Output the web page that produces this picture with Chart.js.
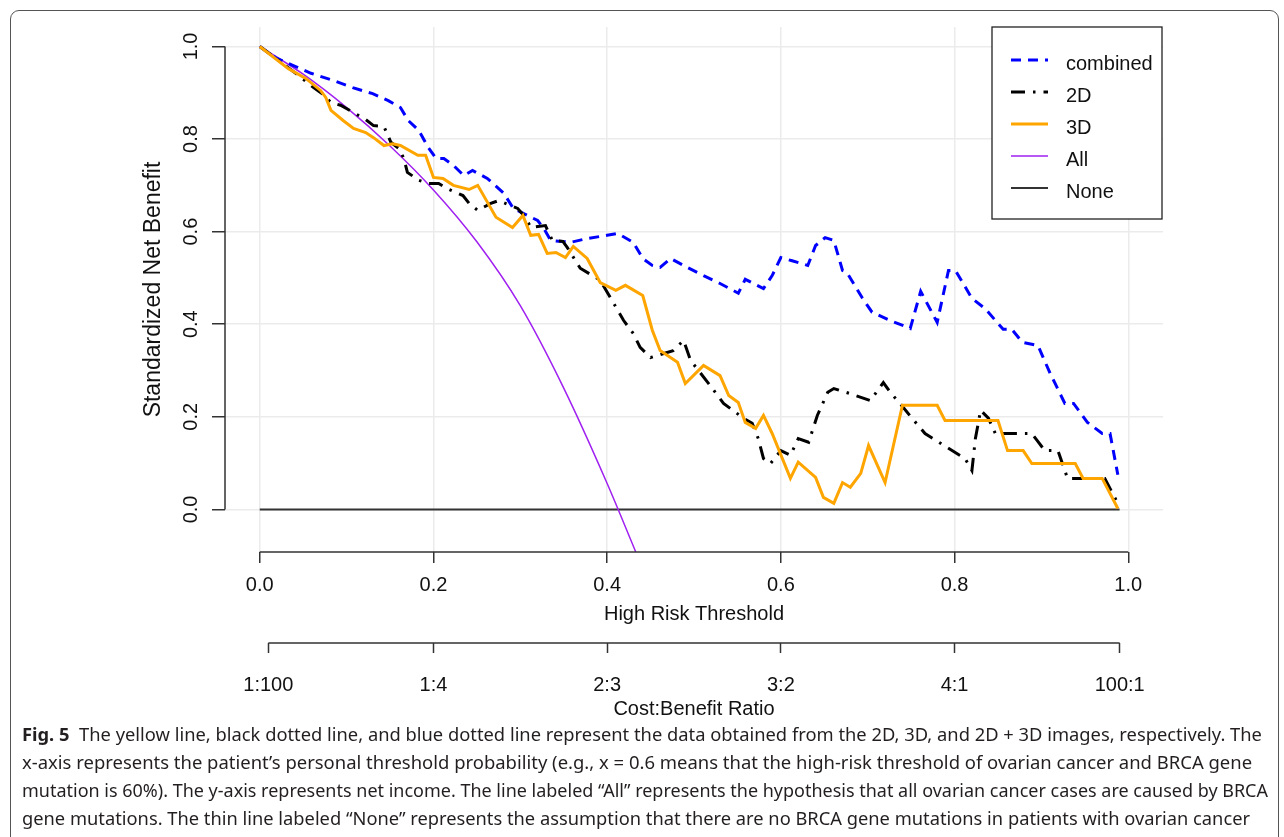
<!DOCTYPE html>
<html>
<head>
<meta charset="utf-8">
<title>Decision curve: High Risk Threshold</title>
<script src="https://cdn.jsdelivr.net/npm/chart.js"></script>
<style>
    body {
        margin: 0;
        width: 1284px;
        height: 837px;
        overflow: hidden;
        position: relative;
        background: #fff;
    }
    #frame {
        position: absolute;
        left: 10px;
        top: 10px;
        width: 1267px;
        height: 900px;
        border: 1px solid #555;
        border-radius: 9px;
    }
    #dca {
        position: absolute;
        left: 0;
        top: 0;
    }
    #caption {
        position: absolute;
        left: 22px;
        top: 720px;
        font-family: "Noto Sans", sans-serif;
        font-size: 17.5px;
        line-height: 28px;
        color: #231f20;
        white-space: nowrap;
    }
    #caption div {
        display: table;
        transform-origin: 0 50%;
    }
</style>
</head>
<body>
<div id="frame"></div>
<canvas id="dca" width="1284" height="725"></canvas>
<div id="caption">
    <div data-w="1240"><b>Fig. 5</b>&nbsp; The yellow line, black dotted line, and blue dotted line represent the data obtained from the 2D, 3D, and 2D + 3D images, respectively. The</div>
    <div data-w="1230">x-axis represents the patient’s personal threshold probability (e.g., x = 0.6 means that the high-risk threshold of ovarian cancer and BRCA gene</div>
    <div data-w="1246">mutation is 60%). The y-axis represents net income. The line labeled “All” represents the hypothesis that all ovarian cancer cases are caused by BRCA</div>
    <div data-w="1228">gene mutations. The thin line labeled “None” represents the assumption that there are no BRCA gene mutations in patients with ovarian cancer</div>
</div>

<script>
    // axis ticks
    const xTicks = [0, 0.2, 0.4, 0.6, 0.8, 1.0];
    const yTicks = [0, 0.2, 0.4, 0.6, 0.8, 1.0];
    const ratioTicks = [1 / 101, 0.2, 0.4, 0.6, 0.8, 100 / 101];
    const ratioLabels = ['1:100', '1:4', '2:3', '3:2', '4:1', '100:1'];

    // combined (2D + 3D)
    const combinedX = [0, 0.018, 0.038, 0.059, 0.084, 0.107, 0.130, 0.148, 0.162, 0.171, 0.183, 0.194, 0.203, 0.212,
        0.223, 0.235, 0.245, 0.262, 0.281, 0.292, 0.304, 0.320, 0.327, 0.335, 0.358, 0.377, 0.400, 0.412, 0.430,
        0.441, 0.452, 0.461, 0.473, 0.492, 0.511, 0.530, 0.551, 0.559, 0.580, 0.590, 0.600, 0.613, 0.631, 0.640,
        0.651, 0.661, 0.671, 0.676, 0.694, 0.705, 0.726, 0.749, 0.761, 0.780, 0.793, 0.801, 0.820, 0.835, 0.856,
        0.866, 0.878, 0.896, 0.910, 0.927, 0.937, 0.953, 0.970, 0.979, 0.988];
    const combinedY = [1.0, 0.976, 0.959, 0.942, 0.927, 0.911, 0.898, 0.883, 0.868, 0.840, 0.819, 0.782, 0.758, 0.758,
        0.743, 0.721, 0.732, 0.715, 0.683, 0.650, 0.639, 0.624, 0.607, 0.581, 0.577, 0.585, 0.592, 0.596, 0.577,
        0.542, 0.527, 0.523, 0.542, 0.523, 0.505, 0.488, 0.467, 0.497, 0.477, 0.505, 0.544, 0.537, 0.527, 0.570,
        0.587, 0.581, 0.516, 0.512, 0.456, 0.426, 0.408, 0.391, 0.471, 0.404, 0.516, 0.516, 0.456, 0.434, 0.389,
        0.389, 0.361, 0.354, 0.294, 0.229, 0.229, 0.188, 0.164, 0.164, 0.075];

    // 2D
    const model2dX = [0, 0.045, 0.062, 0.072, 0.082, 0.093, 0.110, 0.122, 0.131, 0.143, 0.151, 0.160, 0.166, 0.170,
        0.183, 0.194, 0.206, 0.216, 0.234, 0.241, 0.251, 0.266, 0.275, 0.297, 0.306, 0.312, 0.329, 0.337, 0.349,
        0.354, 0.369, 0.392, 0.407, 0.419, 0.430, 0.438, 0.450, 0.476, 0.488, 0.496, 0.516, 0.534, 0.557, 0.567,
        0.574, 0.580, 0.588, 0.600, 0.611, 0.620, 0.632, 0.642, 0.654, 0.661, 0.680, 0.703, 0.718, 0.726, 0.741,
        0.751, 0.766, 0.793, 0.812, 0.820, 0.824, 0.830, 0.839, 0.847, 0.889, 0.895, 0.904, 0.919, 0.927, 0.930,
        0.973, 0.988];
    const model2dY = [1.0, 0.937, 0.911, 0.898, 0.879, 0.873, 0.855, 0.842, 0.829, 0.827, 0.793, 0.780, 0.758, 0.728,
        0.711, 0.704, 0.704, 0.693, 0.678, 0.661, 0.646, 0.661, 0.667, 0.650, 0.631, 0.609, 0.613, 0.581, 0.579,
        0.566, 0.521, 0.495, 0.447, 0.408, 0.380, 0.350, 0.328, 0.343, 0.365, 0.322, 0.274, 0.229, 0.197, 0.186,
        0.153, 0.110, 0.099, 0.127, 0.117, 0.153, 0.145, 0.203, 0.253, 0.261, 0.250, 0.235, 0.274, 0.253, 0.220,
        0.197, 0.164, 0.132, 0.110, 0.084, 0.153, 0.214, 0.197, 0.164, 0.164, 0.149, 0.127, 0.127, 0.084, 0.067,
        0.067, 0.013];

    // 3D
    const model3dX = [0, 0.033, 0.053, 0.070, 0.076, 0.082, 0.096, 0.108, 0.122, 0.131, 0.143, 0.153, 0.162, 0.182,
        0.191, 0.200, 0.211, 0.223, 0.241, 0.251, 0.272, 0.291, 0.303, 0.312, 0.321, 0.331, 0.341, 0.352, 0.361,
        0.377, 0.392, 0.410, 0.421, 0.441, 0.452, 0.461, 0.481, 0.490, 0.511, 0.530, 0.540, 0.551, 0.559, 0.571,
        0.580, 0.590, 0.611, 0.620, 0.640, 0.649, 0.661, 0.671, 0.680, 0.692, 0.701, 0.720, 0.740, 0.780, 0.789,
        0.850, 0.861, 0.879, 0.889, 0.939, 0.948, 0.970, 0.988];
    const model3dY = [1.0, 0.952, 0.931, 0.905, 0.890, 0.862, 0.840, 0.823, 0.814, 0.803, 0.786, 0.790, 0.786, 0.765,
        0.765, 0.717, 0.715, 0.700, 0.691, 0.700, 0.631, 0.609, 0.635, 0.592, 0.594, 0.553, 0.555, 0.544, 0.568,
        0.542, 0.490, 0.473, 0.484, 0.462, 0.387, 0.343, 0.318, 0.272, 0.311, 0.289, 0.246, 0.231, 0.188, 0.175,
        0.203, 0.164, 0.067, 0.102, 0.069, 0.026, 0.013, 0.058, 0.048, 0.078, 0.138, 0.058, 0.225, 0.225, 0.192,
        0.192, 0.127, 0.127, 0.099, 0.099, 0.067, 0.067, 0.002];

    // treat all
    const allX = [0, 0.05, 0.10, 0.15, 0.20, 0.25, 0.30, 0.35, 0.40, 0.433];
    const allY = [1.0, 0.940, 0.868, 0.785, 0.690, 0.578, 0.440, 0.262, 0.056, -0.092];

    // treat none
    const noneX = [0, 0.99];
    const noneY = [0, 0];

    const xLim = [0, 1];
    const yLim = [-0.05, 1];

    const pts = (xs, ys) => xs.map((x, i) => ({ x: x, y: ys[i] }));
    // R style 4% padding around the data range
    const pad = (lim) => [lim[0] - 0.04 * (lim[1] - lim[0]), lim[1] + 0.04 * (lim[1] - lim[0])];
    const xRange = pad(xLim);
    const yRange = pad(yLim);

    Chart.defaults.font.family = "'Liberation Sans', Arial, sans-serif";
    Chart.defaults.color = '#111';

    // axis lines only between the first and last tick, like base R axes
    const axisLines = {
        id: 'axisLines',
        afterDraw(chart) {
            const { ctx, scales: { x, x2, y } } = chart;
            ctx.save();
            ctx.strokeStyle = '#333';
            ctx.lineWidth = 1.5;
            ctx.beginPath();
            ctx.moveTo(x.getPixelForValue(xTicks[0]), x.top);
            ctx.lineTo(x.getPixelForValue(xTicks[xTicks.length - 1]), x.top);
            ctx.moveTo(x2.getPixelForValue(ratioTicks[0]), x2.top);
            ctx.lineTo(x2.getPixelForValue(ratioTicks[ratioTicks.length - 1]), x2.top);
            ctx.moveTo(y.right, y.getPixelForValue(yTicks[0]));
            ctx.lineTo(y.right, y.getPixelForValue(yTicks[yTicks.length - 1]));
            ctx.stroke();
            ctx.restore();
        }
    };

    // boxed legend in the top right corner of the plot
    const legendOrder = ['combined', '2D', '3D', 'All', 'None'];
    const boxLegend = {
        id: 'boxLegend',
        afterDraw(chart) {
            const { ctx, chartArea } = chart;
            const w = 170, h = 192;
            const left = chartArea.right - 1 - w;
            const top = chartArea.top;
            ctx.save();
            ctx.fillStyle = '#fff';
            ctx.fillRect(left, top, w, h);
            ctx.strokeStyle = '#222';
            ctx.lineWidth = 1.3;
            ctx.strokeRect(left, top, w, h);
            ctx.font = "20px 'Liberation Sans', Arial, sans-serif";
            ctx.textBaseline = 'middle';
            ctx.fillStyle = '#111';
            legendOrder.forEach((label, i) => {
                const ds = chart.data.datasets.find(d => d.label === label);
                const yLine = top + 33 + i * 32;
                ctx.strokeStyle = ds.borderColor;
                ctx.lineWidth = ds.borderWidth;
                ctx.setLineDash(ds.borderDash || []);
                ctx.beginPath();
                ctx.moveTo(left + 19, yLine);
                ctx.lineTo(left + 56, yLine);
                ctx.stroke();
                ctx.fillText(label, left + 74, yLine + 4);
            });
            ctx.restore();
        }
    };

    const ctx = document.getElementById('dca').getContext('2d');
    const dcaChart = new Chart(ctx, {
        type: 'line',
        data: {
            datasets: [
                {
                    label: 'combined',
                    data: pts(combinedX, combinedY),
                    borderColor: '#0000ff',
                    borderWidth: 3,
                    borderDash: [10, 7],
                    order: 3
                },
                {
                    label: '2D',
                    data: pts(model2dX, model2dY),
                    borderColor: '#000000',
                    borderWidth: 3,
                    borderDash: [14, 8, 2.5, 8],
                    order: 2
                },
                {
                    label: '3D',
                    data: pts(model3dX, model3dY),
                    borderColor: '#ffa500',
                    borderWidth: 3,
                    order: 1
                },
                {
                    label: 'All',
                    data: pts(allX, allY),
                    borderColor: '#a020f0',
                    borderWidth: 1.5,
                    cubicInterpolationMode: 'monotone',
                    order: 4
                },
                {
                    label: 'None',
                    data: pts(noneX, noneY),
                    borderColor: '#333333',
                    borderWidth: 2,
                    order: 5
                }
            ]
        },
        options: {
            responsive: false,
            animation: false,
            elements: {
                point: { radius: 0 },
                line: { tension: 0, fill: false }
            },
            layout: {
                padding: { left: 0, top: 27, right: 121, bottom: 2 }
            },
            scales: {
                x: {
                    type: 'linear',
                    position: 'bottom',
                    weight: 0,
                    min: xRange[0],
                    max: xRange[1],
                    afterBuildTicks: s => { s.ticks = xTicks.map(v => ({ value: v })); },
                    afterFit: s => { s.height = 91; },
                    border: { display: false },
                    grid: {
                        color: '#ebebeb',
                        lineWidth: 1.5,
                        tickColor: '#333',
                        tickWidth: 1.5,
                        tickLength: 11
                    },
                    ticks: {
                        font: { size: 20 },
                        padding: 10,
                        maxRotation: 0,
                        autoSkip: false,
                        callback: v => v.toFixed(1)
                    },
                    title: {
                        display: true,
                        text: 'High Risk Threshold',
                        font: { size: 20 },
                        padding: { top: 0, bottom: 17 }
                    }
                },
                x2: {
                    type: 'linear',
                    position: 'bottom',
                    weight: 1,
                    min: xRange[0],
                    max: xRange[1],
                    afterBuildTicks: s => { s.ticks = ratioTicks.map(v => ({ value: v })); },
                    afterFit: s => { s.height = 80; },
                    border: { display: false },
                    grid: {
                        drawOnChartArea: false,
                        tickColor: '#333',
                        tickWidth: 1.5,
                        tickLength: 10
                    },
                    ticks: {
                        font: { size: 20 },
                        padding: 20,
                        maxRotation: 0,
                        autoSkip: false,
                        callback: (v, i) => ratioLabels[i]
                    },
                    title: {
                        display: true,
                        text: 'Cost:Benefit Ratio',
                        font: { size: 20 },
                        padding: { top: 0, bottom: 2 }
                    }
                },
                y: {
                    type: 'linear',
                    min: yRange[0],
                    max: yRange[1],
                    afterBuildTicks: s => { s.ticks = yTicks.map(v => ({ value: v })); },
                    afterFit: s => { s.width = 225; },
                    border: { display: false },
                    grid: {
                        color: '#ebebeb',
                        lineWidth: 1.5,
                        tickColor: '#333',
                        tickWidth: 1.5,
                        tickLength: 13
                    },
                    ticks: {
                        font: { size: 20 },
                        padding: 7,
                        minRotation: 90,
                        maxRotation: 90,
                        crossAlign: 'center',
                        autoSkip: false,
                        callback: v => v.toFixed(1)
                    },
                    title: {
                        display: true,
                        text: 'Standardized Net Benefit',
                        font: { size: 23 },
                        padding: { top: 140, bottom: 0 }
                    }
                }
            },
            plugins: {
                legend: { display: false },
                tooltip: { enabled: false }
            }
        },
        plugins: [axisLines, boxLegend]
    });

    // squeeze each caption line to its measured width
    document.querySelectorAll('#caption div').forEach(line => {
        const w = line.getBoundingClientRect().width;
        line.style.transform = 'scaleX(' + (Number(line.dataset.w) / w).toFixed(4) + ')';
    });
</script>
</body>
</html>
